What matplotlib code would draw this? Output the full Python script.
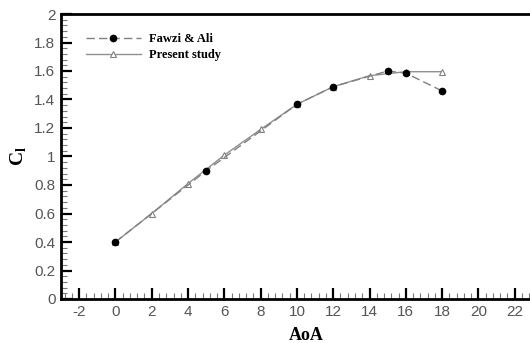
import matplotlib
matplotlib.use("Agg")
import matplotlib.pyplot as plt
from matplotlib.ticker import MultipleLocator, FormatStrFormatter

# Fawzi & Ali reference data
fawzi_aoa = [0, 5, 10, 12, 15, 16, 18]
fawzi_cl = [0.40, 0.90, 1.366, 1.49, 1.60, 1.585, 1.46]

# present study
present_aoa = [0, 2, 4, 6, 8, 10, 12, 14, 16, 18]
present_cl = [0.40, 0.60, 0.81, 1.01, 1.19, 1.366, 1.49, 1.567, 1.595, 1.595]

x_ticks = list(range(-2, 23, 2))

fig = plt.figure(figsize=(5.3, 3.43), dpi=100)
ax = fig.add_axes([61 / 530, 44 / 343, 490 / 530, 285 / 343])

ax.plot(fawzi_aoa, fawzi_cl, linestyle=(0, (6, 3)), color="#808080", linewidth=1.0,
        marker="o", markersize=4.5, markerfacecolor="black", markeredgecolor="black",
        label="Fawzi & Ali", zorder=3)
ax.plot(present_aoa, present_cl, "-", color="#909090", linewidth=1.0,
        marker="^", markersize=4.5, markerfacecolor="white", markeredgecolor="#808080",
        markeredgewidth=0.8, label="Present study", zorder=2)

ax.set_xlim(-3, 24)
ax.set_ylim(0, 2)
ax.set_xticks(x_ticks)
ax.xaxis.set_minor_locator(MultipleLocator(0.4))
ax.yaxis.set_major_locator(MultipleLocator(0.2))
ax.yaxis.set_minor_locator(MultipleLocator(0.04))
ax.yaxis.set_major_formatter(FormatStrFormatter("%g"))
ax.xaxis.set_major_formatter(FormatStrFormatter("%g"))

for s in ax.spines.values():
    s.set_linewidth(2.0)
    s.set_color("black")

ax.tick_params(which="both", direction="in", top=False, right=False,
               labelcolor="#555555", labelsize=11)
ax.tick_params(which="major", length=8, width=1.6, pad=4)
ax.tick_params(which="minor", length=4, width=0.8, color="#777777")
for lab in ax.get_xticklabels() + ax.get_yticklabels():
    lab.set_family(["Liberation Sans", "DejaVu Sans"])

ax.set_xlabel("AoA", family="Liberation Serif", fontweight="bold", fontsize=13, labelpad=6)
ax.set_ylabel(r"C$_\mathregular{l}$", family="Liberation Serif", fontweight="bold",
              fontsize=14, labelpad=4)

leg = ax.legend(loc="upper left", bbox_to_anchor=(0.04, 0.95), frameon=False,
                prop={"family": "Liberation Serif", "weight": "bold", "size": 9},
                handlelength=4.4, handletextpad=0.7, labelspacing=0.3, borderaxespad=0)

fig.savefig("out.png", dpi=100)
